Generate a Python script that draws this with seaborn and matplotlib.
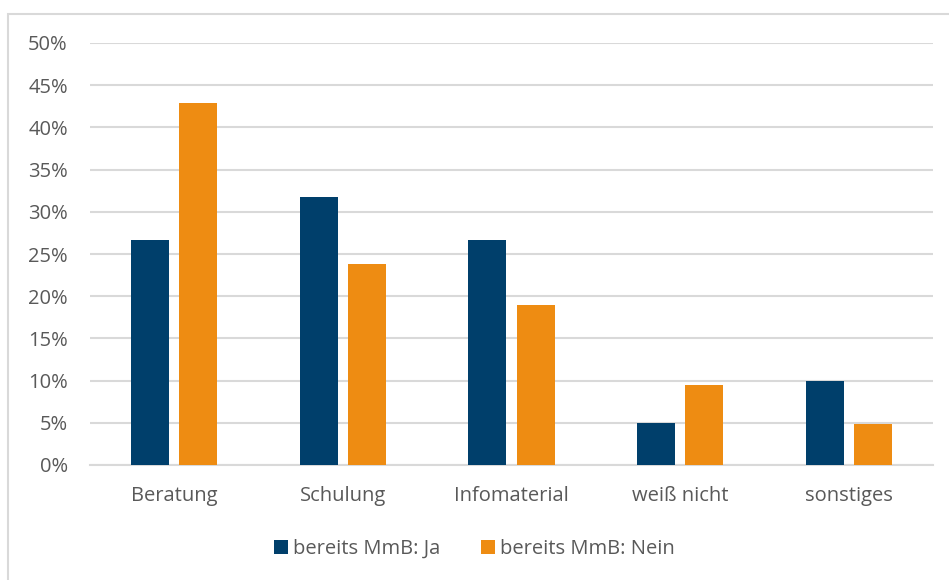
import pandas as pd
import numpy as np
import matplotlib
matplotlib.use("Agg")
import matplotlib.pyplot as plt
from matplotlib.patches import Rectangle
from matplotlib.ticker import PercentFormatter
import seaborn as sns

# values (percent)
categories = ["Beratung", "Schulung", "Infomaterial", "weiß nicht", "sonstiges"]
ja = [26.7, 31.7, 26.7, 5.0, 10.0]
nein = [42.9, 23.8, 19.0, 9.5, 4.8]
series = ["bereits MmB: Ja", "bereits MmB: Nein"]

df = pd.DataFrame({
    "Kategorie": categories * 2,
    "Wert": ja + nein,
    "Gruppe": [series[0]] * len(categories) + [series[1]] * len(categories),
})

sns.set_theme(style="white")
plt.rcParams["font.family"] = ["Open Sans", "DejaVu Sans"]
textcol = "#595959"
gridcol = "#d9d9d9"
fs = 14.5

fig = plt.figure(figsize=(9.49, 5.8), dpi=100)
ax = fig.add_axes([90 / 949, 1 - 465 / 580, 843 / 949, 422 / 580])

sns.barplot(data=df, x="Kategorie", y="Wert", hue="Gruppe",
            palette=["#003F6B", "#EE8C12"], saturation=1, width=0.57, gap=0.21,
            linewidth=0, ax=ax, zorder=3)

ax.set_ylim(0, 50)
ax.set_xlim(-0.5, 4.5)
ax.set_yticks(np.arange(0, 51, 5))
ax.yaxis.set_major_formatter(PercentFormatter(decimals=0))
ax.yaxis.grid(True, color=gridcol, linewidth=1.5, zorder=0)
ax.set_axisbelow(True)
for s in ["top", "right", "left"]:
    ax.spines[s].set_visible(False)
ax.spines["bottom"].set_color(gridcol)
ax.spines["bottom"].set_linewidth(1.5)
ax.tick_params(axis="both", length=0, labelsize=fs, labelcolor=textcol)
ax.tick_params(axis="y", pad=16)
ax.tick_params(axis="x", pad=15)
ax.set_xlabel("")
ax.set_ylabel("")

ax.legend(loc="center", bbox_to_anchor=(0.5, 1 - 549 / 580), bbox_transform=fig.transFigure,
          ncol=2, frameon=False, fontsize=fs, labelcolor=textcol,
          handlelength=0.7, handleheight=0.7, handletextpad=0.25, columnspacing=2.0)

# outer chart border (only top/left visible in the crop)
fig.patches.append(Rectangle((8 / 949, -0.1), 1.2, 1.1 - 14 / 580, transform=fig.transFigure,
                             fill=False, edgecolor=gridcol, linewidth=1.5))

fig.savefig("out.png", dpi=100)
